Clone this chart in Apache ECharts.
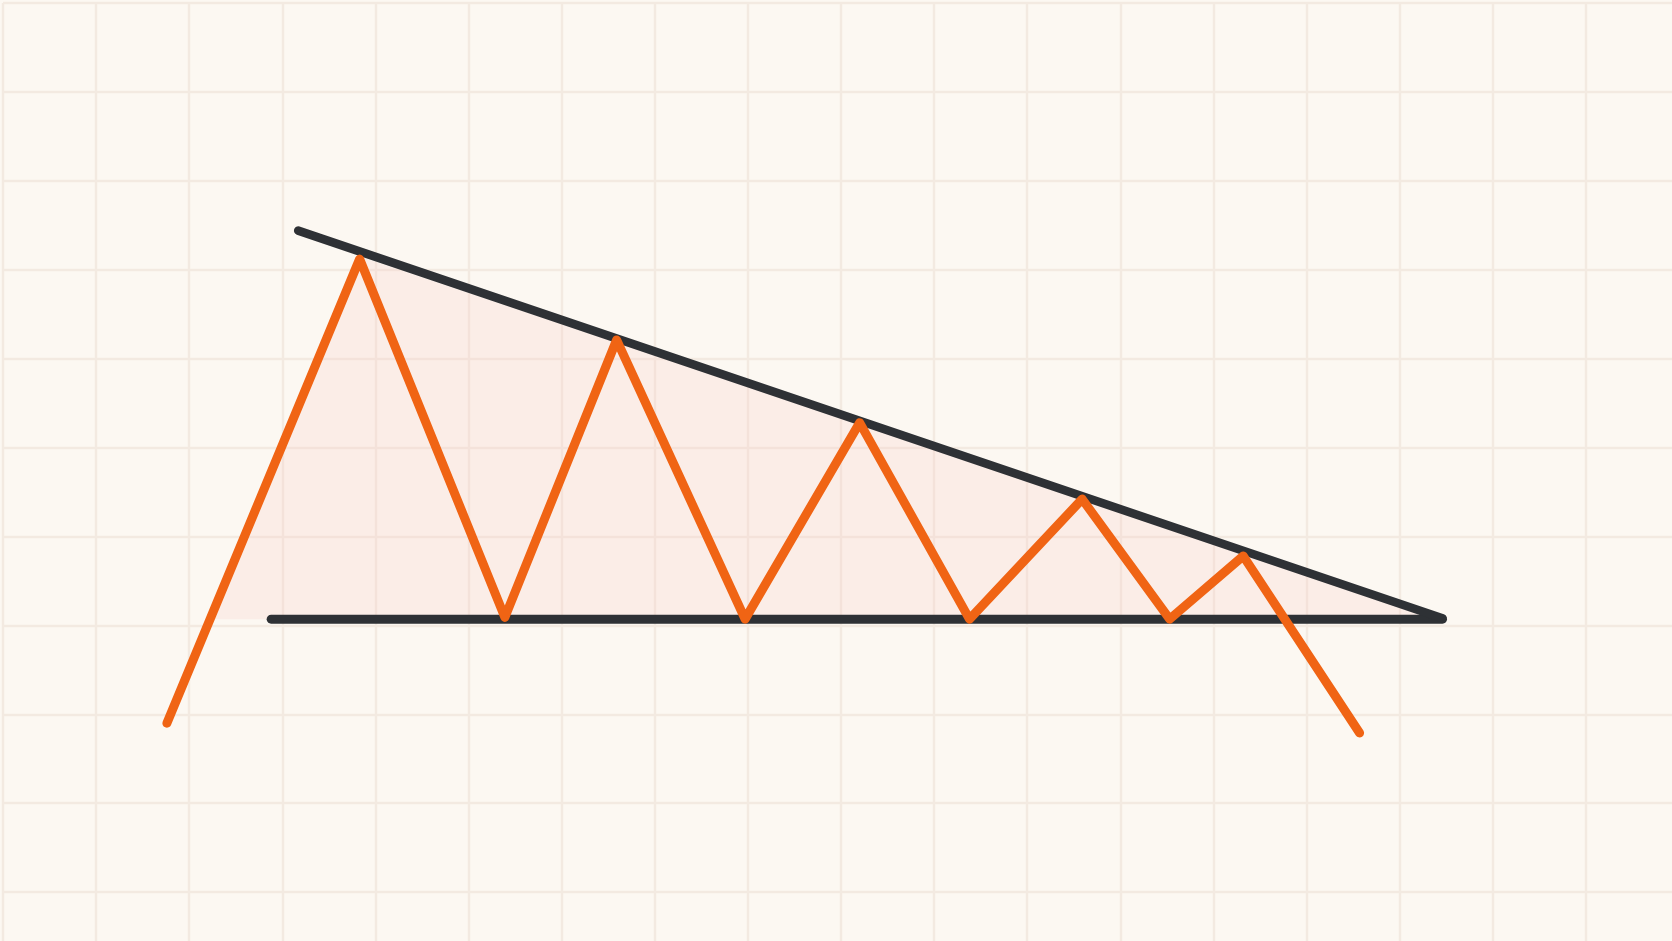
<!DOCTYPE html>
<html>
<head>
<meta charset="utf-8">
<script src="https://cdn.jsdelivr.net/npm/echarts@6/dist/echarts.min.js"></script>
<style>
  html, body { margin: 0; padding: 0; background: #fcf8f2; overflow: hidden; }
  #chart { width: 1672px; height: 941px; }
</style>
</head>
<body>
<div id="chart"></div>
<script>
// Price zigzag (x in grid columns, y in grid rows from bottom)
const priceX = [1.76, 3.83, 5.39, 6.59, 7.97, 9.20, 10.38, 11.59, 12.53, 13.32, 14.57];
const priceY = [1.90, 7.12, 3.09, 6.21, 3.07, 5.28, 3.07, 4.42, 3.07, 3.78, 1.79];
// Descending resistance line
const resistanceX = [3.17, 15.46];
const resistanceY = [7.44, 3.08];
// Horizontal support line
const supportX = [2.88, 15.46];
const supportY = [3.07, 3.07];
// Shaded triangle
const shadeX = [2.23, 3.83, 15.46];
const shadeY = [3.07, 7.15, 3.07];
// Axis extents
const xRange = [0, 18];
const yRange = [-1, 10];

const zip = (xs, ys) => xs.map((x, i) => [x, ys[i]]);

const chart = echarts.init(document.getElementById('chart'), null, { renderer: 'canvas' });
const gridLine = { show: true, lineStyle: { color: '#f3eae1', width: 2.4 } };

chart.setOption({
  backgroundColor: '#fcf8f2',
  animation: false,
  grid: { left: 3, top: 3, width: 1676, height: 978, containLabel: false, outerBoundsMode: 'none' },
  xAxis: {
    type: 'value', min: xRange[0], max: xRange[1], interval: 1,
    axisLine: { show: false }, axisTick: { show: false }, axisLabel: { show: false },
    splitLine: gridLine
  },
  yAxis: {
    type: 'value', min: yRange[0], max: yRange[1], interval: 1,
    axisLine: { show: false }, axisTick: { show: false }, axisLabel: { show: false },
    splitLine: gridLine
  },
  series: [
    {
      type: 'custom',
      z: 1,
      data: [0],
      renderItem: function (params, api) {
        const pts = zip(shadeX, shadeY).map(p => api.coord(p));
        return {
          type: 'polygon',
          shape: { points: pts },
          style: { fill: 'rgba(252, 196, 190, 0.2)' }
        };
      }
    },
    {
      type: 'line', z: 3, data: zip(supportX, supportY), showSymbol: false,
      lineStyle: { color: '#2e3135', width: 9, cap: 'round', join: 'round' }
    },
    {
      type: 'line', z: 3, data: zip(resistanceX, resistanceY), showSymbol: false,
      lineStyle: { color: '#2e3135', width: 8.5, cap: 'round', join: 'round' }
    },
    {
      type: 'line', z: 4, data: zip(priceX, priceY), showSymbol: false,
      lineStyle: { color: '#f06414', width: 9, cap: 'round', join: 'round' }
    }
  ]
});
</script>
</body>
</html>
